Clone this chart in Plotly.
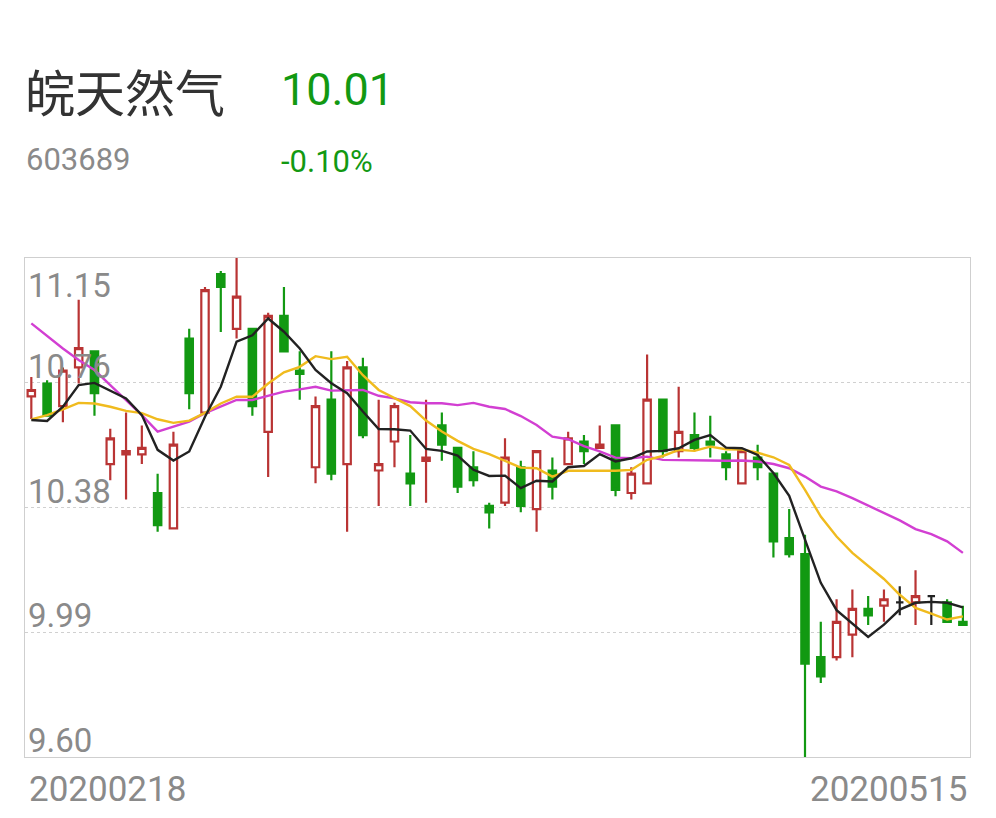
import plotly.graph_objects as go

# Stock header
name = "皖天然气"
code = "603689"
last_price = "10.01"
pct_change = "-0.10%"

# Trading days shown (20200218 .. 20200515)
dates = [
    "20200218", "20200219", "20200220", "20200221", "20200224", "20200225", "20200226", "20200227", "20200228",
    "20200302", "20200303", "20200304", "20200305", "20200306", "20200309", "20200310", "20200311", "20200312",
    "20200313", "20200316", "20200317", "20200318", "20200319", "20200320", "20200323", "20200324", "20200325",
    "20200326", "20200327", "20200330", "20200331",
    "20200401", "20200402", "20200403", "20200407", "20200408", "20200409", "20200410", "20200413", "20200414",
    "20200415", "20200416", "20200417", "20200420", "20200421", "20200422", "20200423", "20200424", "20200427",
    "20200428", "20200429", "20200430",
    "20200506", "20200507", "20200508", "20200511", "20200512", "20200513", "20200514", "20200515",
]

opens = [10.72, 10.76, 10.69, 10.81, 10.86, 10.51, 10.54, 10.54, 10.42, 10.31,
         10.90, 10.67, 11.10, 10.93, 10.93, 10.61, 10.97, 10.80, 10.50, 10.71,
         10.51, 10.81, 10.49, 10.58, 10.48, 10.52, 10.63, 10.56, 10.50, 10.38,
         10.39, 10.50, 10.37, 10.49, 10.51, 10.58, 10.56, 10.63, 10.42, 10.45,
         10.71, 10.55, 10.60, 10.58, 10.54, 10.45, 10.53, 10.48, 10.28, 10.23,
         9.91, 9.91, 9.98, 10.06, 10.07, 10.08, 10.08, 10.10, 10.08, 10.02]
highs = [10.78, 10.77, 10.81, 11.02, 10.86, 10.62, 10.67, 10.63, 10.48, 10.61,
         10.93, 11.06, 11.11, 11.15, 10.93, 10.98, 11.06, 10.86, 10.72, 10.86,
         10.83, 10.84, 10.71, 10.70, 10.60, 10.71, 10.67, 10.56, 10.55, 10.39,
         10.59, 10.52, 10.55, 10.53, 10.61, 10.60, 10.63, 10.63, 10.50, 10.85,
         10.71, 10.75, 10.67, 10.66, 10.55, 10.55, 10.57, 10.48, 10.37, 10.29,
         10.02, 10.09, 10.12, 10.10, 10.12, 10.13, 10.18, 10.10, 10.09, 10.07]
lows = [10.65, 10.66, 10.64, 10.76, 10.66, 10.46, 10.40, 10.51, 10.30, 10.31,
        10.68, 10.67, 10.92, 10.90, 10.66, 10.47, 10.86, 10.71, 10.45, 10.46,
        10.30, 10.59, 10.38, 10.50, 10.38, 10.39, 10.52, 10.42, 10.44, 10.31,
        10.38, 10.36, 10.30, 10.40, 10.51, 10.51, 10.56, 10.41, 10.40, 10.45,
        10.53, 10.53, 10.55, 10.53, 10.46, 10.45, 10.46, 10.22, 10.22, 9.60,
        9.83, 9.90, 9.91, 10.01, 10.02, 10.04, 10.01, 10.01, 10.02, 10.01]
closes = [10.74, 10.66, 10.80, 10.87, 10.73, 10.59, 10.55, 10.56, 10.32, 10.57,
          10.73, 11.05, 11.06, 11.03, 10.69, 10.97, 10.86, 10.79, 10.69, 10.48,
          10.81, 10.60, 10.51, 10.69, 10.45, 10.53, 10.57, 10.44, 10.46, 10.36,
          10.53, 10.38, 10.55, 10.44, 10.59, 10.55, 10.57, 10.43, 10.48, 10.71,
          10.55, 10.61, 10.56, 10.57, 10.50, 10.55, 10.50, 10.27, 10.23, 9.89,
          9.85, 10.02, 10.06, 10.04, 10.09, 10.08, 10.10, 10.10, 10.02, 10.01]

# Moving averages
ma5 = [10.647, 10.644, 10.688, 10.755, 10.762, 10.738, 10.714, 10.662, 10.554, 10.521,
       10.549, 10.657, 10.750, 10.890, 10.910, 10.962, 10.921, 10.869, 10.802, 10.761,
       10.730, 10.673, 10.619, 10.618, 10.614, 10.557, 10.551, 10.536, 10.492, 10.473,
       10.474, 10.435, 10.458, 10.456, 10.500, 10.504, 10.541, 10.518, 10.528, 10.549,
       10.551, 10.559, 10.585, 10.600, 10.561, 10.559, 10.538, 10.482, 10.411, 10.275,
       10.141, 10.056, 10.014, 9.973, 10.011, 10.058, 10.079, 10.082, 10.079, 10.065]
ma10 = [10.649, 10.662, 10.680, 10.700, 10.698, 10.688, 10.675, 10.668, 10.649, 10.638,
        10.645, 10.669, 10.698, 10.719, 10.719, 10.760, 10.795, 10.812, 10.845, 10.836,
        10.843, 10.786, 10.740, 10.716, 10.690, 10.645, 10.611, 10.582, 10.557, 10.541,
        10.519, 10.499, 10.497, 10.471, 10.489, 10.489, 10.489, 10.489, 10.492, 10.523,
        10.535, 10.554, 10.551, 10.564, 10.556, 10.555, 10.545, 10.531, 10.507, 10.430,
        10.347, 10.285, 10.234, 10.192, 10.153, 10.104, 10.063, 10.045, 10.027, 10.037]
ma20 = [10.947, 10.907, 10.869, 10.833, 10.802, 10.755, 10.709, 10.662, 10.611, 10.626,
        10.642, 10.668, 10.688, 10.709, 10.709, 10.723, 10.735, 10.742, 10.750, 10.738,
        10.740, 10.740, 10.722, 10.714, 10.702, 10.699, 10.699, 10.693, 10.700, 10.688,
        10.681, 10.659, 10.631, 10.595, 10.587, 10.566, 10.549, 10.530, 10.528, 10.533,
        10.523, 10.523, 10.521, 10.521, 10.520, 10.521, 10.518, 10.510, 10.497, 10.471,
        10.440, 10.425, 10.404, 10.381, 10.358, 10.335, 10.308, 10.292, 10.270, 10.234]

y_labels = ["9.60", "9.99", "10.38", "10.76", "11.15"]
y_min, y_max = 9.60, 11.15

RED = "#b93434"
GREEN = "#129912"
GREY = "#8a8a8a"

# split candles by direction so each group gets its own style
groups = {"up": [], "down": [], "flat": []}
for i in range(len(dates)):
    if closes[i] > opens[i]:
        groups["up"].append(i)
    elif closes[i] < opens[i]:
        groups["down"].append(i)
    else:
        groups["flat"].append(i)

styles = {
    "up": (RED, "white"),
    "down": (GREEN, GREEN),
    "flat": ("#222222", "#222222"),
}

fig = go.Figure()
for key, idx in groups.items():
    line_col, fill_col = styles[key]
    side = dict(line=dict(color=line_col, width=2.2), fillcolor=fill_col)
    fig.add_trace(go.Candlestick(
        x=[dates[i] for i in idx],
        open=[opens[i] for i in idx],
        high=[highs[i] for i in idx],
        low=[lows[i] for i in idx],
        close=[closes[i] for i in idx],
        increasing=side,
        decreasing=side,
        whiskerwidth=0,
        hoverinfo="skip",
    ))

for vals, col in [(ma20, "#d23fd2"), (ma10, "#f0bb1e"), (ma5, "#222222")]:
    fig.add_trace(go.Scatter(x=dates, y=vals, mode="lines",
                             line=dict(color=col, width=2.4), hoverinfo="skip"))

step = (y_max - y_min) / (len(y_labels) - 1)
levels = [y_min + k * step for k in range(len(y_labels))]

annotations = []
for v, lab in zip(levels, y_labels):
    top = lab == y_labels[-1]
    annotations.append(dict(
        x=0, xref="paper", xanchor="left", xshift=1,
        y=v, yref="y", yanchor="top" if top else "bottom",
        yshift=-6 if top else -5,
        text=lab, showarrow=False,
        font=dict(family="Roboto", size=33, color=GREY),
    ))

# date labels under the frame
annotations.append(dict(x=0, xref="paper", xanchor="left", xshift=2,
                        y=0, yref="paper", yanchor="top", yshift=-10,
                        text=dates[0], showarrow=False,
                        font=dict(family="Roboto", size=35, color=GREY)))
annotations.append(dict(x=1, xref="paper", xanchor="right", xshift=-1,
                        y=0, yref="paper", yanchor="top", yshift=-10,
                        text=dates[-1], showarrow=False,
                        font=dict(family="Roboto", size=35, color=GREY)))

# header
annotations += [
    dict(x=0, xref="paper", xanchor="left", xshift=-2, y=1, yref="paper",
         yanchor="middle", yshift=168, text=name, showarrow=False,
         font=dict(family="Noto Sans CJK SC", size=50, color="#333333")),
    dict(x=0, xref="paper", xanchor="left", xshift=254, y=1, yref="paper",
         yanchor="middle", yshift=169, text=last_price, showarrow=False,
         font=dict(family="Roboto", size=45, color=GREEN)),
    dict(x=0, xref="paper", xanchor="left", xshift=-1, y=1, yref="paper",
         yanchor="middle", yshift=99, text=code, showarrow=False,
         font=dict(family="Roboto", size=31, color=GREY)),
    dict(x=0, xref="paper", xanchor="left", xshift=254, y=1, yref="paper",
         yanchor="middle", yshift=97, text=pct_change, showarrow=False,
         font=dict(family="Roboto", size=31, color=GREEN)),
]

# page body adds an 8px margin, so the figure is drawn 8px smaller
fig.update_layout(
    width=988,
    height=810,
    margin=dict(l=17, r=26, t=250, b=61),
    paper_bgcolor="white",
    plot_bgcolor="white",
    showlegend=False,
    boxgap=0.33,
    annotations=annotations,
    xaxis=dict(
        type="category", categoryorder="array", categoryarray=dates,
        range=[-0.4, len(dates) - 0.55],
        showticklabels=False, showgrid=False, zeroline=False,
        showline=True, mirror=True, linecolor="#cfcfcf", linewidth=1,
        rangeslider=dict(visible=False),
    ),
    yaxis=dict(
        range=[y_min, y_max],
        tickvals=levels[1:-1],
        showticklabels=False, showgrid=True, gridcolor="#d0d0d0",
        griddash="dot", gridwidth=1, zeroline=False,
        showline=True, mirror=True, linecolor="#cfcfcf", linewidth=1,
    ),
)

fig.write_html("out.html")
